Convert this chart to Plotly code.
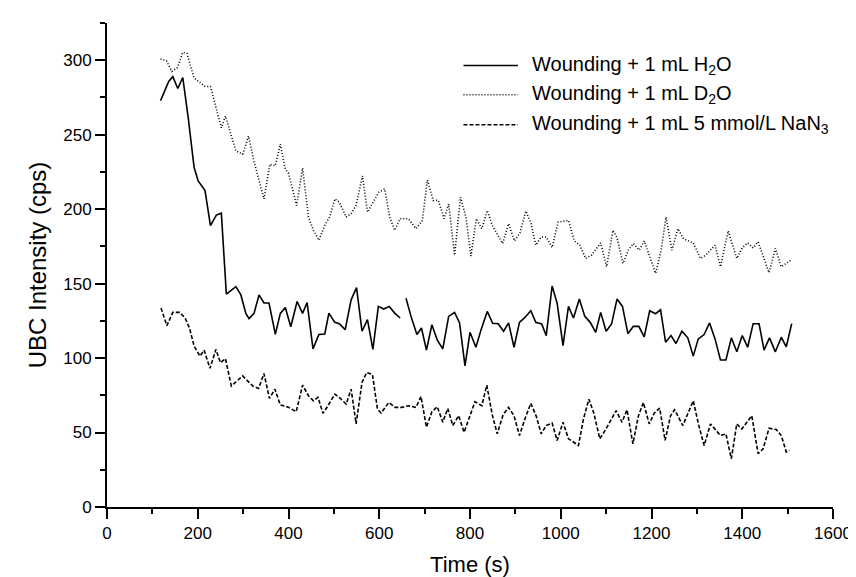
import plotly.graph_objects as go

# time (s) and UBC intensity (cps)
t_h2o = [118, 136, 145, 156, 167, 179, 192, 201, 216, 228, 241, 252, 263, 284, 295, 306, 313, 324, 335, 346,
         357, 371, 382, 393, 405, 419, 431, 441, 454, 467, 480, 489, 502, 512, 525, 538, 550, 562, 574, 586,
         598, 610, 622, 634, 646, 652, 659, 670, 683, 693, 704, 716, 728, 740, 753, 766, 777, 789, 800, 813,
         825, 838, 850, 862, 874, 885, 897, 909, 921, 934, 945, 958, 968, 981, 992, 1005, 1017, 1028, 1041,
         1053, 1065, 1077, 1088, 1100, 1112, 1124, 1136, 1148, 1160, 1172, 1184, 1196, 1209, 1220, 1231,
         1243, 1254, 1267, 1280, 1292, 1303, 1316, 1328, 1340, 1352, 1364, 1376, 1388, 1400, 1412, 1424,
         1437, 1448, 1460, 1473, 1486, 1497, 1509]
v_h2o = [272.9, 285.8, 289, 281, 288.4, 261.3, 228, 219, 212.5, 189, 196, 197.3, 143, 148, 142.4, 130, 126.5,
         130, 142.4, 137, 137, 116, 130, 134, 121, 138, 130, 137.3, 106.2, 115.8, 116.2, 130.2, 124, 123.1,
         119.1, 139.1, 147.3, 118, 125.8, 105.8, 134.7, 132.9, 134.7, 130.2, 126.9, None, 140.2, 128, 115.8,
         120.2, 105.3, 122.4, 112, 106.2, 128, 130.7, 123.6, 94.7, 117.3, 107.3, 119.6, 131.3, 123.4, 123.1,
         118, 123.6, 107.3, 124, 127.3, 131.8, 124, 122.9, 115.1, 148.4, 136.9, 108.4, 134.7, 126.9, 139.6,
         128, 124, 117.3, 130.7, 118, 122.9, 139.6, 134.7, 116.4, 121.3, 121.3, 114.2, 131.8, 129.8, 132.4,
         110.7, 115.1, 109.8, 118, 113.6, 101.3, 112.9, 115.8, 123.6, 112.9, 98.7, 98.7, 113.6, 104.2, 115.1,
         107.3, 123.1, 123.1, 105.3, 113.6, 104.2, 114, 107.6, 123.1]

t_d2o = [118, 131, 143, 155, 167, 176, 192, 205, 216, 228, 240, 252, 261, 272, 284, 299, 312, 324, 333, 346,
         359, 371, 382, 393, 400, 418, 431, 444, 455, 467, 480, 491, 502, 512, 527, 538, 549, 563, 574, 588,
         599, 612, 623, 634, 646, 664, 681, 695, 706, 719, 730, 743, 753, 766, 779, 791, 802, 814, 826, 838,
         849, 872, 885, 898, 910, 923, 934, 945, 957, 968, 981, 994, 1017, 1030, 1042, 1055, 1068, 1088,
         1101, 1115, 1124, 1137, 1149, 1160, 1173, 1184, 1197, 1209, 1221, 1232, 1245, 1258, 1271, 1292,
         1308, 1319, 1340, 1352, 1369, 1388, 1400, 1412, 1424, 1435, 1459, 1473, 1486, 1509]
v_d2o = [300.9, 299.6, 292.5, 295, 305.3, 304.7, 288, 284.7, 282.4, 282.4, 268, 254.7, 262.5, 252, 239.1,
         236.9, 249.1, 232, 221, 206.9, 230.2, 229.1, 243.6, 227, 224, 202.5, 227.6, 194.7, 185.8, 179.1,
         189.1, 195, 206.9, 204.7, 194.7, 197, 202.5, 222.4, 198, 205.8, 211.3, 213.6, 194.7, 185.8, 193.6,
         193.6, 186.9, 192.4, 219.6, 205.8, 206, 193.6, 203.6, 169.1, 208, 194.7, 168.5, 193.6, 186.9, 199.1,
         189.1, 176.9, 190.2, 178.7, 184, 198.7, 191, 175.8, 181.3, 181.3, 174.2, 191.3, 192.4, 178.7, 175.8,
         166.9, 169.1, 177.3, 161.3, 185.8, 181, 163.6, 172.5, 176.9, 172.5, 178.7, 167, 156.9, 172, 194.7,
         172.5, 186.9, 180, 177.3, 166.9, 169, 175.8, 161.3, 185.4, 166.9, 174, 177.3, 174, 178, 157.3, 173.6,
         161.3, 166.2]

t_nan3 = [119, 132, 145, 160, 172, 182, 192, 205, 214, 227, 240, 250, 261, 274, 299, 321, 334, 346, 358, 370,
          382, 400, 417, 431, 444, 455, 465, 476, 487, 502, 516, 527, 538, 549, 562, 572, 585, 596, 604, 621,
          635, 650, 664, 681, 692, 704, 716, 728, 740, 751, 762, 775, 787, 798, 811, 826, 837, 849, 860, 873,
          885, 897, 909, 922, 934, 946, 957, 968, 981, 992, 1005, 1017, 1039, 1050, 1062, 1073, 1086, 1099,
          1111, 1122, 1135, 1146, 1159, 1171, 1182, 1195, 1206, 1218, 1230, 1242, 1251, 1269, 1292, 1304,
          1316, 1330, 1352, 1364, 1376, 1388, 1399, 1421, 1435, 1446, 1459, 1475, 1486, 1497, 1504]
v_nan3 = [133.6, 121.8, 130.7, 130.7, 127, 120, 108, 101.3, 105.3, 93.1, 105.8, 96.9, 99.6, 81.3, 88, 81.3,
          79.6, 89.6, 72.9, 79.1, 68.5, 67, 64, 81.8, 74.7, 71.3, 73.6, 62.9, 68, 75.8, 72.4, 69.1, 79.1, 55.8,
          83.6, 90.2, 89.1, 65.8, 63.1, 70.2, 66.9, 66.9, 68, 66.9, 74.2, 53.6, 64, 67.3, 56.9, 66.2, 54.7, 61.3,
          50.2, 59.1, 70.7, 68, 81.8, 62, 49.1, 62, 66.9, 61.3, 48, 60, 69.6, 61, 49.1, 54.7, 56.4, 44.7, 56.9,
          45.8, 41.3, 59, 72.4, 63, 45.8, 52, 59.1, 64.7, 56.9, 65.3, 42.4, 61, 70.2, 55.8, 63, 66.4, 44.7,
          61.3, 65.3, 54.7, 71.3, 55, 41.3, 55.8, 48, 49.1, 32.4, 55.8, 52.4, 61.3, 35.8, 39, 52.9, 52, 48,
          36.9, 38]

labels = ["Wounding + 1 mL H<sub>2</sub>O",
          "Wounding + 1 mL D<sub>2</sub>O",
          "Wounding + 1 mL 5 mmol/L NaN<sub>3</sub>"]
dashes = ["solid", "1px,2px", "4px,2px"]

FONT = "Liberation Sans, Arial, sans-serif"

fig = go.Figure()
series = [(t_h2o, v_h2o), (t_d2o, v_d2o), (t_nan3, v_nan3)]
for (t, v), name, dash in zip(series, labels, dashes):
    fig.add_trace(go.Scatter(x=t, y=v, mode="lines", name=name, connectgaps=False,
                             line=dict(color="black", width=1.6, dash=dash)))

# legend drawn by hand so the line samples are long like the original
leg_y = [0.912, 0.852, 0.790]
for name, dash, y in zip(labels, dashes, leg_y):
    fig.add_shape(type="line", xref="paper", yref="paper", x0=0.491, x1=0.566, y0=y, y1=y,
                  line=dict(color="black", width=1.5, dash=dash))
    fig.add_annotation(xref="paper", yref="paper", x=0.582, y=y, text=name, showarrow=False,
                       xanchor="left", yanchor="middle", font=dict(family=FONT, size=20, color="black"))

fig.update_layout(
    width=856, height=577,
    margin=dict(l=99, r=20, t=15, b=75),
    plot_bgcolor="white", paper_bgcolor="white",
    showlegend=False,
    font=dict(family=FONT, color="black"),
)
fig.update_xaxes(range=[0, 1600], dtick=200, tick0=0, showline=True, linecolor="black", linewidth=2,
                 ticks="outside", ticklen=10, tickwidth=2, tickcolor="black", showgrid=False, zeroline=False,
                 minor=dict(dtick=100, ticks="outside", ticklen=5, tickwidth=1.5, tickcolor="black"),
                 tickfont=dict(size=17), title=dict(text="Time (s)", font=dict(size=22), standoff=14))
fig.update_yaxes(range=[0, 325], dtick=50, tick0=0, showline=True, linecolor="black", linewidth=2,
                 ticks="outside", ticklen=10, tickwidth=2, tickcolor="black", showgrid=False, zeroline=False,
                 minor=dict(dtick=25, ticks="outside", ticklen=5, tickwidth=1.5, tickcolor="black"),
                 tickfont=dict(size=17), title=dict(text="UBC Intensity (cps)", font=dict(size=24), standoff=10))

fig.write_html("out.html")
